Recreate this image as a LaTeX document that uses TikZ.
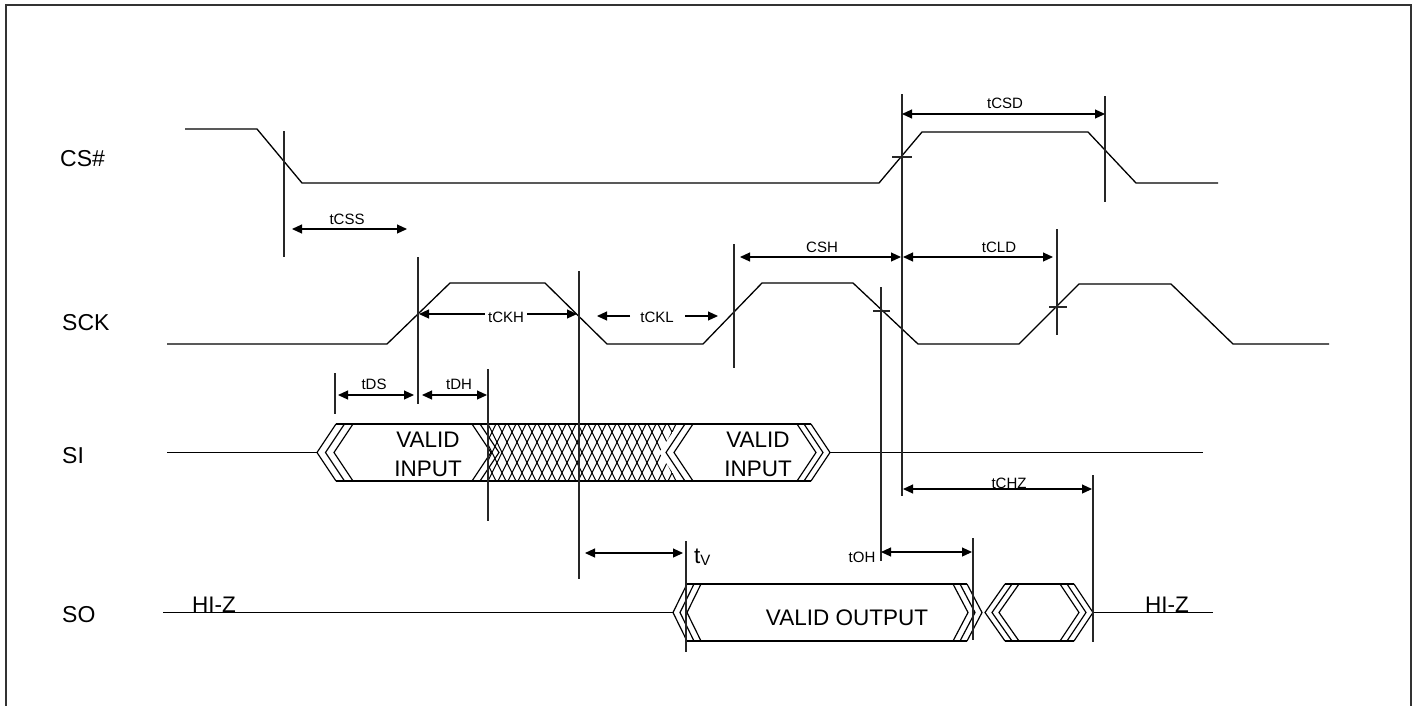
\documentclass[tikz,border=0pt]{standalone}
\usepackage{fontspec}
\setmainfont{Liberation Sans}
\usetikzlibrary{arrows.meta}
\begin{document}
\begin{tikzpicture}[x=1pt,y=-1pt,
  wave/.style={line width=1.3pt, line join=miter},
  vmark/.style={line width=1.1pt, black!85},
  dimarrow/.style={line width=1.1pt, {Triangle[length=10pt,width=9pt]}-{Triangle[length=10pt,width=9pt]}},
  onearrow/.style={line width=1.1pt, -{Triangle[length=10pt,width=9pt]}},
  bus/.style={line width=1.2pt, line join=miter},
  hatch/.style={line width=1pt},
  siglabel/.style={anchor=base west, inner sep=0pt, font=\fontsize{23}{27}\selectfont},
  biglabel/.style={anchor=base, inner sep=0pt, font=\fontsize{22.5}{27}\selectfont},
  smalllabel/.style={anchor=base, inner sep=0pt, font=\fontsize{15}{18}\selectfont},
]
\useasboundingbox (0,0) rectangle (1420,705);
% frame
\draw[line width=1.8pt, black!80] (6,720) -- (6,5) -- (1411,5) -- (1411,720);

% signal names
\node[siglabel] (lcs) at (60,166) {CS\#};
\node[siglabel] (lsck) at (62,330) {SCK};
\node[siglabel] (lsi) at (62,463) {SI};
\node[siglabel] (lso) at (62,622) {SO};

% CS# waveform
\draw[wave] (185,129) -- (257,129) -- (302,183) -- (879,183) -- (922,132) -- (1088,132) -- (1136,183) -- (1218,183);
% SCK waveform
\draw[wave] (167,344) -- (387,344) -- (450,283) -- (545,283) -- (607,344) -- (703,344) -- (762,283) -- (853,283) -- (918,344) -- (1019,344) -- (1079,284) -- (1171,284) -- (1233,344) -- (1329,344);

% SI bus
\draw[bus] (167,452.5) -- (317,452.5);
\foreach \t in {336,344.5,353} \draw[bus] (\t,424) -- ({\t-19},452.5) -- (\t,481);
\draw[bus] (336,424) -- (811,424);
\draw[bus] (336,481) -- (811,481);
\foreach \t in {472,480} \draw[bus] (\t,424) -- ({\t+19},452.5) -- (\t,481);
\begin{scope}
  \clip (488,424) -- (678,424) -- (659,452.5) -- (678,481) -- (488,481) -- cycle;
  \foreach \i in {0,...,24} {
    \draw[hatch] ({458+\i*10},424) -- ({486+\i*10},481);
    \draw[hatch] ({486+\i*10},424) -- ({458+\i*10},481);
  }
\end{scope}
\foreach \t in {685,693} \draw[bus] (\t,424) -- ({\t-19},452.5) -- (\t,481);
\foreach \t in {797,804,811} \draw[bus] (\t,424) -- ({\t+19},452.5) -- (\t,481);
\draw[bus] (830,452.5) -- (1203,452.5);
\node[biglabel] (vi1a) at (428,447) {VALID};
\node[biglabel] (vi1b) at (428,476) {INPUT};
\node[biglabel] (vi2a) at (758,447) {VALID};
\node[biglabel] (vi2b) at (758,476) {INPUT};

% SO bus
\draw[bus] (163,612.5) -- (673,612.5);
\foreach \t in {687,694,701} \draw[bus] (\t,584) -- ({\t-14},612.5) -- (\t,641);
\draw[bus] (687,584) -- (967,584);
\draw[bus] (687,641) -- (967,641);
\foreach \t in {953,960,967} \draw[bus] (\t,584) -- ({\t+15},612.5) -- (\t,641);
\foreach \t in {1005,1012,1019} \draw[bus] (\t,584) -- ({\t-20},612.5) -- (\t,641);
\draw[bus] (1005,584) -- (1074,584);
\draw[bus] (1005,641) -- (1074,641);
\foreach \t in {1060,1067,1074} \draw[bus] (\t,584) -- ({\t+19},612.5) -- (\t,641);
\draw[bus] (1093,612.5) -- (1213,612.5);
\node[biglabel] (hiz1) at (214,612) {HI-Z};
\node[biglabel] (hiz2) at (1167,612) {HI-Z};
\node[biglabel] (vout) at (847,625) {VALID OUTPUT};

% vertical reference lines
\draw[vmark] (284,131) -- (284,257);
\draw[vmark] (418,257) -- (418,404);
\draw[vmark] (579,271) -- (579,579);
\draw[vmark] (734,244) -- (734,368);
\draw[vmark] (902,94) -- (902,496);
\draw[vmark] (881,287) -- (881,561);
\draw[vmark] (1057,229) -- (1057,335);
\draw[vmark] (1105,96) -- (1105,202);
\draw[vmark] (335,373) -- (335,414);
\draw[vmark] (488,369) -- (488,521);
\draw[vmark] (686,541) -- (686,652);
\draw[vmark] (973,538) -- (973,640);
\draw[vmark] (1093,475) -- (1093,642);
% small crossing ticks
\draw[vmark] (892,157) -- (912,157);
\draw[vmark] (873,311) -- (890,311);
\draw[vmark] (1049,307) -- (1067,307);

% dimension arrows and labels
\draw[dimarrow] (292,229) -- (407,229);
\node[smalllabel] (tcss) at (347,224) {tCSS};
\draw[dimarrow] (902,114) -- (1105,114);
\node[smalllabel] (tcsd) at (1005,108) {tCSD};
\draw[dimarrow] (740,257) -- (901,257);
\node[smalllabel] (csh) at (822,252) {CSH};
\draw[dimarrow] (903,257) -- (1053,257);
\node[smalllabel] (tcld) at (999,252) {tCLD};
\draw[dimarrow] (419,314) -- (577,314);
\node[smalllabel, fill=white, inner xsep=3pt, inner ysep=1pt] (tckh) at (506,322) {tCKH};
\draw[onearrow] (630,316) -- (597,316);
\draw[onearrow] (685,316) -- (718,316);
\node[smalllabel] (tckl) at (657,322) {tCKL};
\draw[dimarrow] (338,395) -- (414,395);
\node[smalllabel] (tds) at (374,389) {tDS};
\draw[dimarrow] (422,395) -- (487,395);
\node[smalllabel] (tdh) at (459,389) {tDH};
\draw[dimarrow] (585,553) -- (683,553);
\node[anchor=base west, inner sep=0pt, font=\fontsize{22.5}{27}\selectfont] (tv) at (694,563) {t\raisebox{-2pt}{\fontsize{15}{18}\selectfont V}};
\draw[dimarrow] (881,552) -- (972,552);
\node[smalllabel] (toh) at (862,562) {tOH};
\draw[dimarrow] (903,489) -- (1092,489);
\node[smalllabel] (tchz) at (1009,488) {tCHZ};
\end{tikzpicture}
\end{document}
